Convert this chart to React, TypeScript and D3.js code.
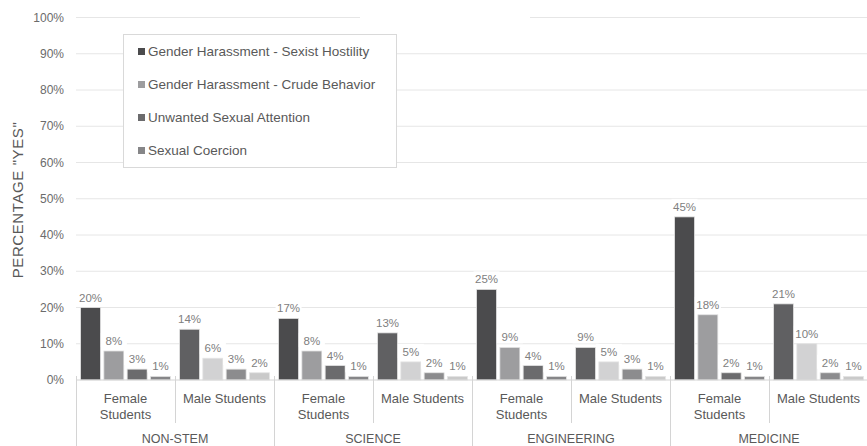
import React from "react";
import * as d3 from "d3";

const groups = ["NON-STEM", "SCIENCE", "ENGINEERING", "MEDICINE"];
const subgroups = ["Female Students", "Male Students"];
const seriesNames = [
  "Gender Harassment - Sexist Hostility",
  "Gender Harassment - Crude Behavior",
  "Unwanted Sexual Attention",
  "Sexual Coercion",
];
// values in order: NON-STEM F, NON-STEM M, SCIENCE F, SCIENCE M, ENGINEERING F, ENGINEERING M, MEDICINE F, MEDICINE M
const sexistHostility = [20, 14, 17, 13, 25, 9, 45, 21];
const crudeBehavior = [8, 6, 8, 5, 9, 5, 18, 10];
const unwantedAttention = [3, 3, 4, 2, 4, 3, 2, 2];
const sexualCoercion = [1, 2, 1, 1, 1, 1, 1, 1];
const seriesValues = [sexistHostility, crudeBehavior, unwantedAttention, sexualCoercion];
const yTicks = [0, 10, 20, 30, 40, 50, 60, 70, 80, 90, 100];

const femaleColors = ["#4b4b4d", "#9d9d9f", "#6b6b6d", "#868688"];
const maleColors = ["#606062", "#d2d2d3", "#8c8c8e", "#cacaca"];

const W = 867;
const H = 446;
const FONT = "'Liberation Sans', Arial, sans-serif";

export default function App() {
  const x0 = d3.scaleBand<string>().domain(groups).range([76, 868]).padding(0);
  const x1 = d3.scaleBand<string>().domain(subgroups).range([0, x0.bandwidth()]).padding(0);
  const x2 = d3
    .scaleBand<string>()
    .domain(seriesNames)
    .range([0, x1.bandwidth()])
    .paddingInner(0.142)
    .paddingOuter(0.196);
  const y = d3.scaleLinear().domain([0, 100]).range([380, 17.5]);

  const plotLeft = 76;
  const plotRight = 868;

  const bars: React.ReactNode[] = [];
  const labels: React.ReactNode[] = [];
  groups.forEach((g, gi) => {
    subgroups.forEach((s, si) => {
      const idx = gi * 2 + si;
      const colors = si === 0 ? femaleColors : maleColors;
      seriesNames.forEach((name, k) => {
        const v = seriesValues[k][idx];
        const bx = (x0(g) as number) + (x1(s) as number) + (x2(name) as number);
        const bw = x2.bandwidth();
        bars.push(
          <rect
            key={`b-${idx}-${k}`}
            x={bx}
            y={y(v)}
            width={bw}
            height={y(0) - y(v)}
            fill={colors[k]}
            stroke="#e4e4e4"
            strokeWidth={0.8}
          />
        );
        const txt = `${v}%`;
        labels.push(
          <g key={`l-${idx}-${k}`}>
            <rect x={bx + bw / 2 - 13} y={y(v) - 18} width={26} height={14} fill="#ffffff" />
            <text
              x={bx + bw / 2}
              y={y(v) - 6}
              textAnchor="middle"
              fontSize={11.5}
              fill="#808080"
              fontFamily={FONT}
            >
              {txt}
            </text>
          </g>
        );
      });
    });
  });

  return (
    <svg
      width={W}
      height={H}
      style={{ position: "absolute", left: 0, top: 0, background: "#ffffff" }}
      fontFamily={FONT}
    >
      <rect x={0} y={0} width={W} height={H} fill="#ffffff" />
      {/* gridlines */}
      {yTicks.map((t) =>
        t === 0 ? null : t === 100 ? (
          <g key={`g${t}`}>
            <line x1={plotLeft} x2={360} y1={y(t)} y2={y(t)} stroke="#e6e6e6" strokeWidth={1} />
            <line x1={530} x2={plotRight} y1={y(t)} y2={y(t)} stroke="#e6e6e6" strokeWidth={1} />
          </g>
        ) : (
          <line key={`g${t}`} x1={plotLeft} x2={plotRight} y1={y(t)} y2={y(t)} stroke="#e6e6e6" strokeWidth={1} />
        )
      )}
      {/* y tick labels */}
      {yTicks.map((t) => (
        <text
          key={`yt${t}`}
          x={64}
          y={y(t) + 4}
          textAnchor="end"
          fontSize={12}
          fill="#6b6b6b"
        >
          {`${t}%`}
        </text>
      ))}
      {/* y axis title */}
      <text
        transform={`translate(23, 200) rotate(-90)`}
        textAnchor="middle"
        fontSize={15}
        letterSpacing={0.6}
        fill="#595959"
      >
        PERCENTAGE "YES"
      </text>
      {bars}
      {labels}
      {/* baseline */}
      <line x1={plotLeft} x2={plotRight} y1={y(0)} y2={y(0)} stroke="#d4d4d4" strokeWidth={1} />
      {/* category dividers */}
      {groups.map((g, gi) => (
        <line
          key={`od${gi}`}
          x1={(x0(g) as number) + 0.5}
          x2={(x0(g) as number) + 0.5}
          y1={y(0) - 4}
          y2={H}
          stroke="#d4d4d4"
          strokeWidth={1}
        />
      ))}
      {groups.map((g, gi) => (
        <line
          key={`id${gi}`}
          x1={(x0(g) as number) + (x1(subgroups[1]) as number) + 0.5}
          x2={(x0(g) as number) + (x1(subgroups[1]) as number) + 0.5}
          y1={y(0) - 4}
          y2={423}
          stroke="#d4d4d4"
          strokeWidth={1}
        />
      ))}
      {/* subgroup labels */}
      {groups.map((g, gi) =>
        subgroups.map((s, si) => {
          const cx = (x0(g) as number) + (x1(s) as number) + x1.bandwidth() / 2;
          if (si === 0) {
            const parts = s.split(" ");
            return (
              <text key={`sl${gi}${si}`} textAnchor="middle" fontSize={13} fill="#595959">
                <tspan x={cx} y={403}>
                  {parts[0]}
                </tspan>
                <tspan x={cx} y={419}>
                  {parts[1]}
                </tspan>
              </text>
            );
          }
          return (
            <text key={`sl${gi}${si}`} x={cx} y={403} textAnchor="middle" fontSize={13} fill="#595959">
              {s}
            </text>
          );
        })
      )}
      {/* group labels */}
      {groups.map((g) => (
        <text
          key={`gl${g}`}
          x={(x0(g) as number) + x0.bandwidth() / 2}
          y={443}
          textAnchor="middle"
          fontSize={12.5}
          fill="#595959"
        >
          {g}
        </text>
      ))}
      {/* legend */}
      <rect x={123.5} y={34.5} width={273} height={133} fill="#ffffff" stroke="#d9d9d9" strokeWidth={1} />
      {seriesNames.map((n, k) => (
        <g key={`lg${k}`} transform={`translate(138, ${52 + k * 33})`}>
          <rect x={0} y={-4} width={7} height={7} fill={femaleColors[k]} />
          <text x={10} y={4} fontSize={13.5} fill="#595959">
            {n}
          </text>
        </g>
      ))}
    </svg>
  );
}
